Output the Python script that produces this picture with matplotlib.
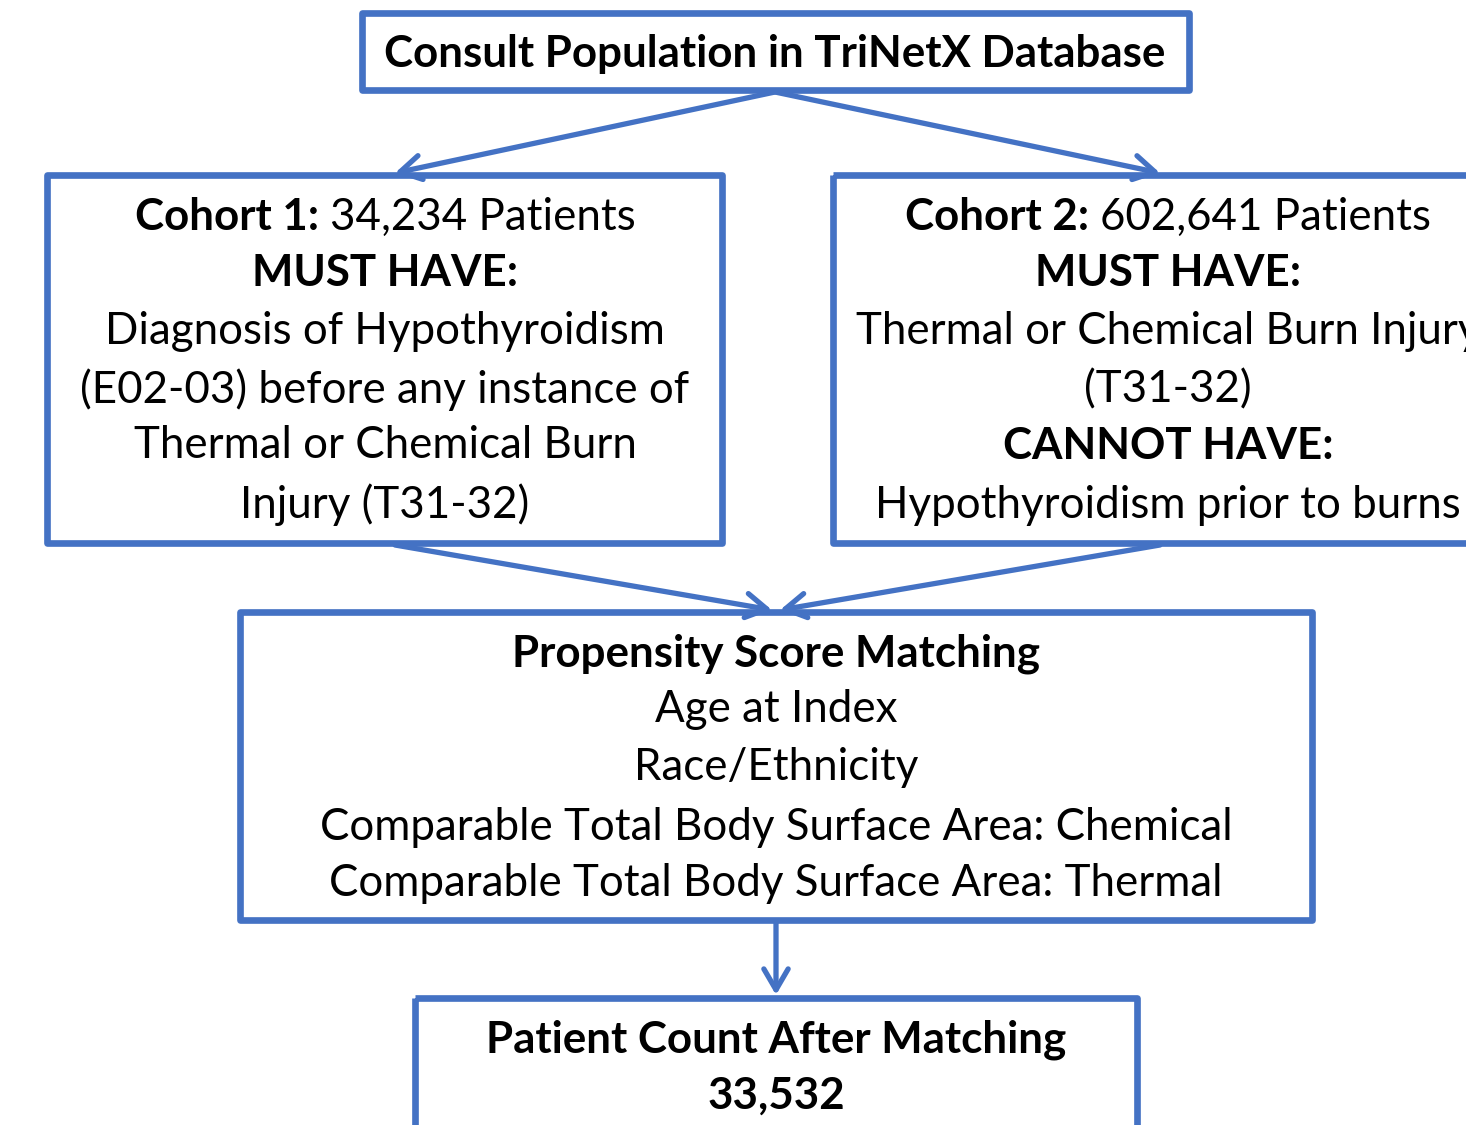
import matplotlib.pyplot as plt
from matplotlib.patches import Rectangle

plt.rcParams['font.family'] = ['Lato', 'DejaVu Sans']

blue = '#4472C4'
W, H = 1466, 1125

# boxes: (x0, y0, x1, y1) in pixel coords, y down
boxes = [
    (362, 13, 1189, 90),
    (47, 175, 722, 543),
    (833, 175, 1503, 543),
    (240, 612, 1312, 920),
    (415, 998, 1137, 1170),
]

# arrows: (x_from, y_from, x_to, y_to)
arrows = [
    (775, 92, 395, 173),
    (775, 92, 1160, 173),
    (395, 545, 772, 610),
    (1160, 545, 780, 610),
    (776, 922, 776, 995),
]

# text lines: (x, y, bold part, regular part)
lines = [
    (775, 52, "Consult Population in TriNetX Database", ""),
    (385, 215, "Cohort 1: ", "34,234 Patients"),
    (385, 271, "MUST HAVE:", ""),
    (385, 329, "", "Diagnosis of Hypothyroidism"),
    (385, 388, "", "(E02-03) before any instance of"),
    (385, 444, "", "Thermal or Chemical Burn"),
    (385, 503, "", "Injury (T31-32)"),
    (1168, 215, "Cohort 2: ", "602,641 Patients"),
    (1168, 271, "MUST HAVE:", ""),
    (1168, 329, "", "Thermal or Chemical Burn Injury"),
    (1168, 388, "", "(T31-32)"),
    (1168, 444, "CANNOT HAVE:", ""),
    (1168, 503, "", "Hypothyroidism prior to burns"),
    (776, 652, "Propensity Score Matching", ""),
    (776, 708, "", "Age at Index"),
    (776, 766, "", "Race/Ethnicity"),
    (776, 825, "", "Comparable Total Body Surface Area: Chemical"),
    (776, 881, "", "Comparable Total Body Surface Area: Thermal"),
    (776, 1038, "Patient Count After Matching", ""),
    (776, 1094, "33,532", ""),
]

fs = 31.6

fig = plt.figure(figsize=(W / 100, H / 100), dpi=100)
ax = fig.add_axes([0, 0, 1, 1])
ax.set_xlim(0, W)
ax.set_ylim(H, 0)
ax.axis('off')

for x0, y0, x1, y1 in boxes:
    ax.add_patch(Rectangle((x0, y0), x1 - x0, y1 - y0, fill=False,
                           edgecolor=blue, lw=4.8, joinstyle='round'))

for xa, ya, xb, yb in arrows:
    ax.annotate("", xy=(xb, yb), xytext=(xa, ya),
                arrowprops=dict(arrowstyle='->,head_length=0.6,head_width=0.35',
                                color=blue, lw=3.8, mutation_scale=25,
                                shrinkA=0, shrinkB=0, capstyle='round',
                                joinstyle='round'))

renderer = fig.canvas.get_renderer()
for x, y, b, r in lines:
    tb = ax.text(0, y + 2, b, fontsize=fs, fontweight='bold', ha='left', va='center')
    tr = ax.text(0, y + 2, r, fontsize=fs, ha='left', va='center')
    wb = tb.get_window_extent(renderer).width if b else 0
    wr = tr.get_window_extent(renderer).width if r else 0
    # data x units equal pixels here
    start = x - (wb + wr) / 2
    tb.set_x(start)
    tr.set_x(start + wb)

fig.savefig('out.png', dpi=100)
